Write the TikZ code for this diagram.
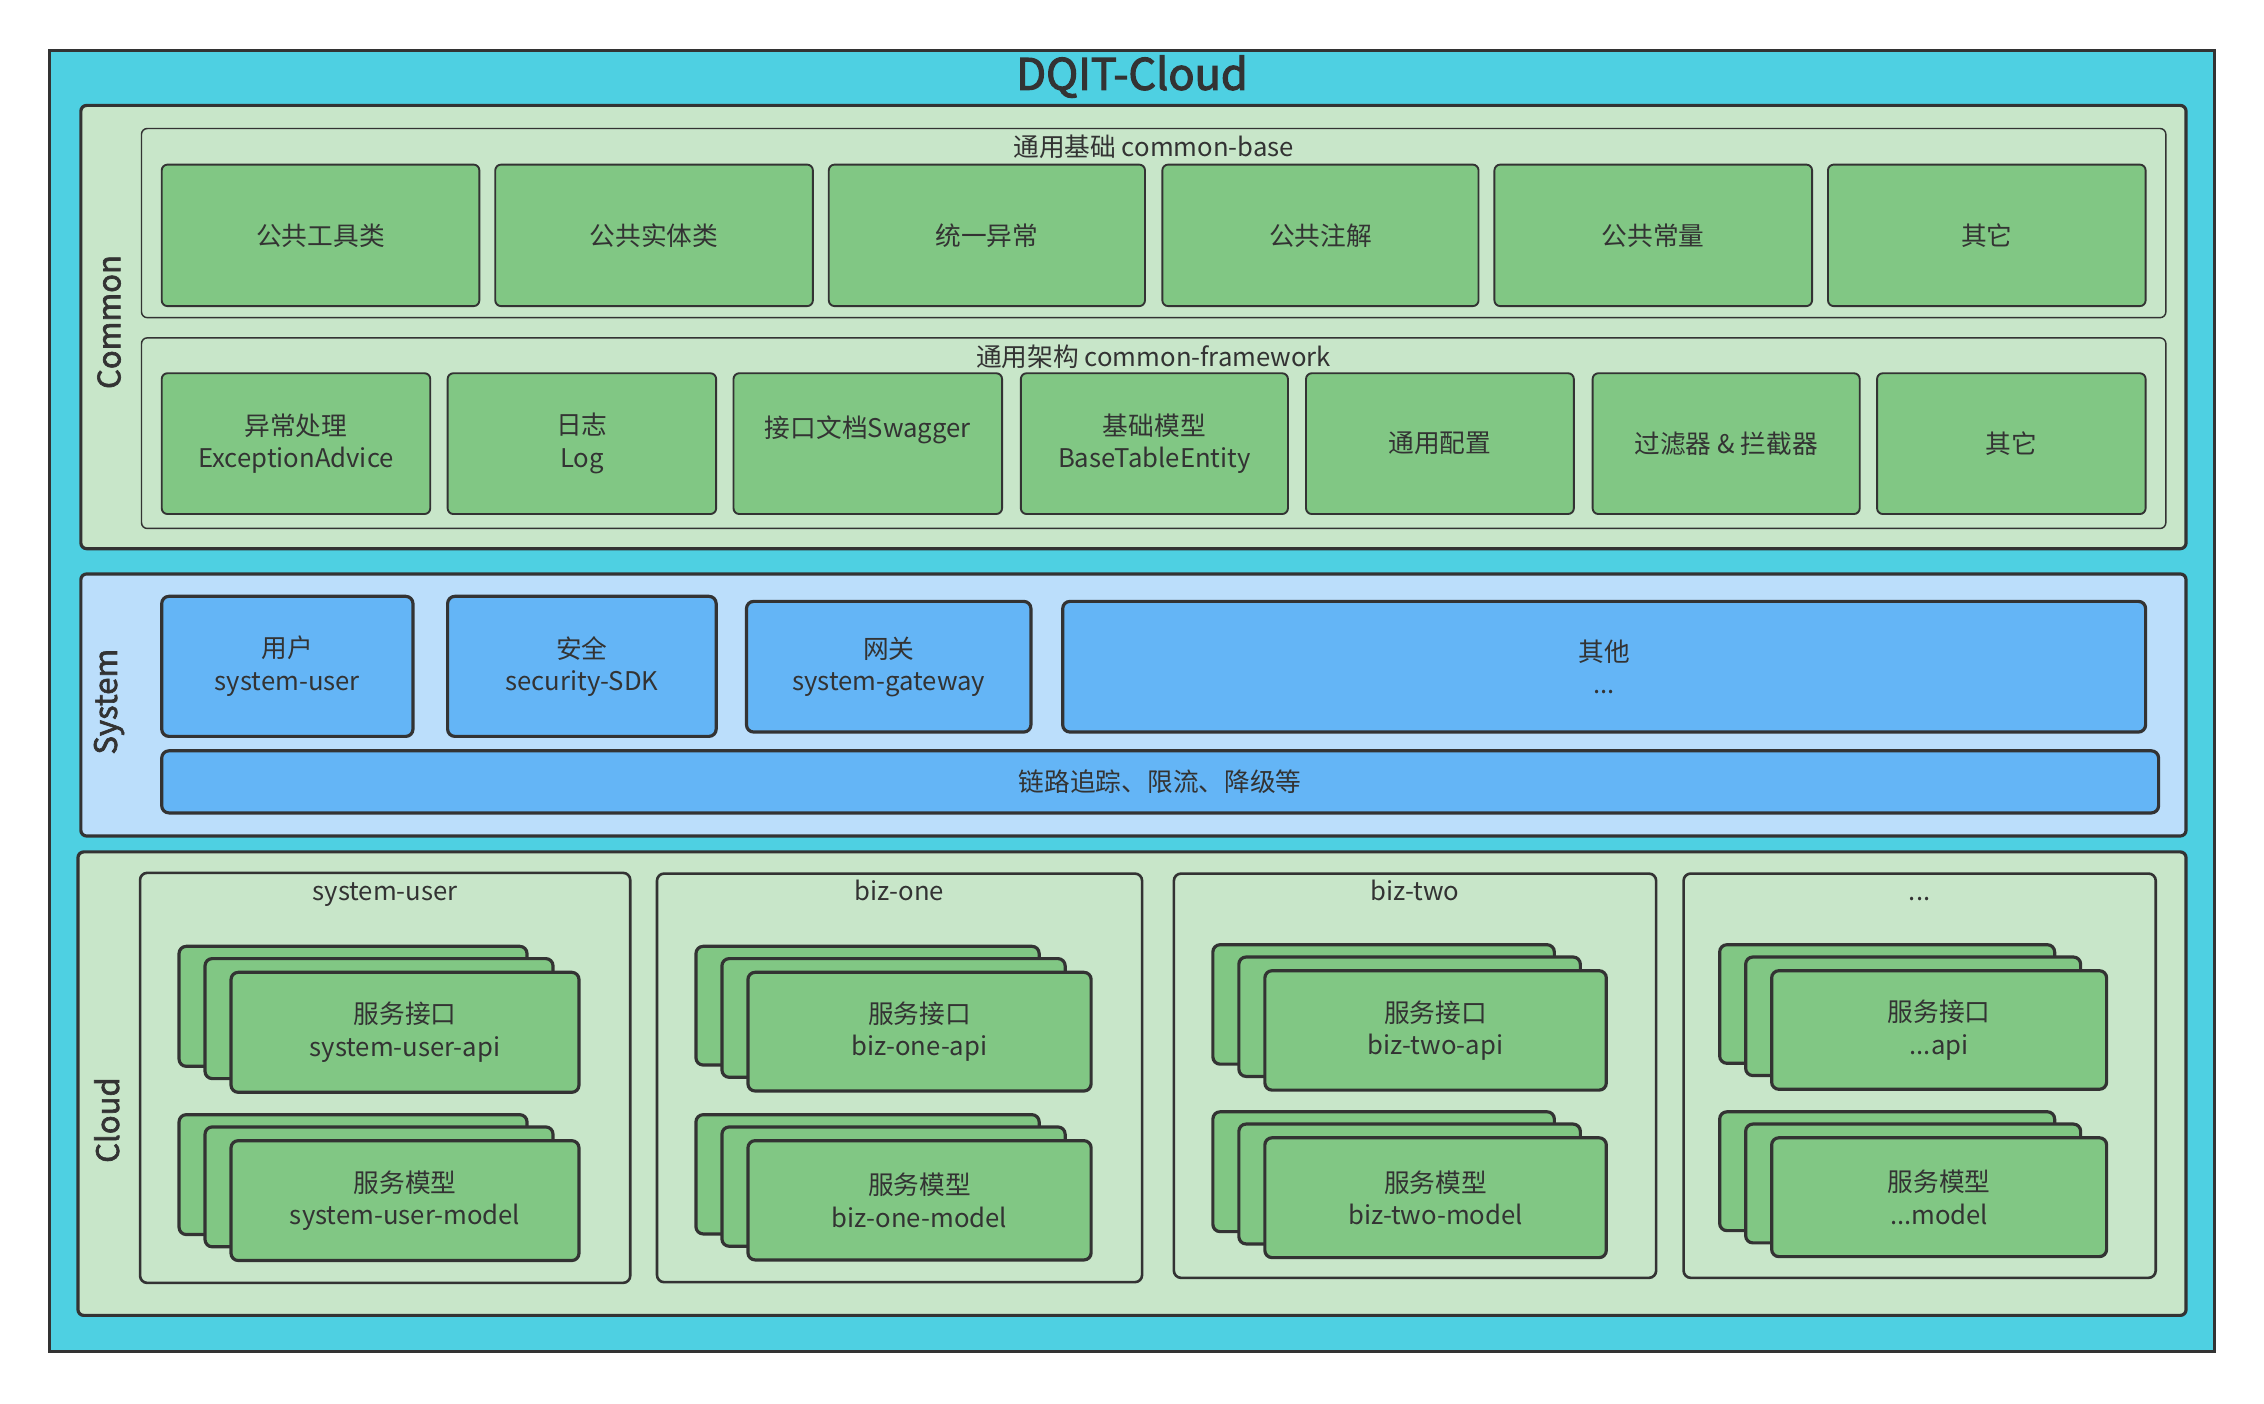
\documentclass[tikz,border=0pt]{standalone}
\usepackage{fontspec}
\setmainfont{Noto Sans CJK SC}
\newfontfamily\medfont{Noto Sans CJK SC}[FakeBold=2]
\newfontfamily\titfont{Noto Sans CJK SC}[FakeBold=2.5]
\definecolor{cyanbg}{HTML}{4ED0E2}
\definecolor{lgreen}{HTML}{C8E6C9}
\definecolor{gcol}{HTML}{81C784}
\definecolor{lblue}{HTML}{BBDEFB}
\definecolor{bcol}{HTML}{64B5F6}
\definecolor{linec}{HTML}{333333}
\definecolor{textc}{HTML}{333333}
\tikzset{
  basebox/.style={draw=linec, inner sep=0pt, outer sep=0pt, text=textc,
    font=\fontsize{17.8}{22.5}\selectfont, align=center},
  outerbox/.style={basebox, fill=cyanbg, line width=2pt},
  layerbox/.style={basebox, rounded corners=4pt, line width=2.2pt},
  grpbox/.style={basebox, fill=lgreen, rounded corners=4pt, line width=1pt},
  gcell/.style={basebox, fill=gcol, rounded corners=4pt, line width=1.3pt},
  bcell/.style={basebox, fill=bcol, rounded corners=5pt, line width=2.2pt},
  subbox/.style={basebox, fill=lgreen, rounded corners=5pt, line width=1.8pt},
  cardbox/.style={basebox, fill=gcol, rounded corners=5pt, line width=2.2pt},
  txt/.style={text=textc, inner sep=0pt, align=center, font=\fontsize{17.8}{22.5}\selectfont},
  sidelabel/.style={text=textc, inner sep=0pt, rotate=90, font=\medfont\fontsize{21.5}{24}\selectfont},
}
\newcommand{\bx}[7]{\node[#1, anchor=north west, minimum width={((#4)-(#2))*1pt}, minimum height={((#5)-(#3))*1pt}] (#6) at ({#2},{#3}) {#7};}
\newcommand{\stackcards}[6]{%
  \bx{cardbox}{#1-36}{#2-18}{#3-36}{#4-18}{#5b}{}
  \bx{cardbox}{#1-18}{#2-9.5}{#3-18}{#4-9.5}{#5m}{}
  \bx{cardbox}{#1}{#2}{#3}{#4}{#5}{#6}}
\begin{document}
\begin{tikzpicture}[x=1pt,y=-1pt]
\useasboundingbox (0,0) rectangle (1568,972);
% outer
\bx{outerbox}{34}{35}{1534}{936}{outer}{}
\node[txt, font=\titfont\fontsize{30}{34}\selectfont] (title) at (784,53) {DQIT-Cloud};
% Common
\bx{layerbox, fill=lgreen}{56}{73}{1514}{380}{common}{}
\node[sidelabel] (commonlbl) at (75.5,223) {Common};
\bx{grpbox}{98}{89}{1500}{220}{cbase}{}
\node[txt] (cbaselbl) at (799,102) {通用基础 common-base};
\bx{gcell}{112}{114}{332}{212}{b1}{公共工具类}
\bx{gcell}{343}{114}{563}{212}{b2}{公共实体类}
\bx{gcell}{574}{114}{793}{212}{b3}{统一异常}
\bx{gcell}{805}{114}{1024}{212}{b4}{公共注解}
\bx{gcell}{1035}{114}{1255}{212}{b5}{公共常量}
\bx{gcell}{1266}{114}{1486}{212}{b6}{其它}
\bx{grpbox}{98}{234}{1500}{366}{cfw}{}
\node[txt] (cfwlbl) at (799,247) {通用架构 common-framework};
\bx{gcell}{112}{258.5}{298}{356}{f1}{异常处理\\ExceptionAdvice}
\bx{gcell}{310}{258.5}{496}{356}{f2}{日志\\Log}
\bx{gcell}{508}{258.5}{694}{356}{f3}{}
\node[txt] (f3t) at (601,297.5) {接口文档Swagger};
\bx{gcell}{707}{258.5}{892}{356}{f4}{基础模型\\BaseTableEntity}
\bx{gcell}{904.5}{258.5}{1090}{356}{f5}{通用配置}
\bx{gcell}{1103}{258.5}{1288}{356}{f6}{过滤器 \& 拦截器}
\bx{gcell}{1300}{258.5}{1486}{356}{f7}{其它}
% System
\bx{layerbox, fill=lblue}{56}{397.5}{1514}{579}{system}{}
\node[sidelabel] (systemlbl) at (75.5,486) {System};
\bx{bcell}{112}{413}{286}{510}{s1}{用户\\system-user}
\bx{bcell}{310}{413}{496}{510}{s2}{安全\\security-SDK}
\bx{bcell}{517}{416.5}{714}{507}{s3}{网关\\system-gateway}
\bx{bcell}{736}{416.5}{1486}{507}{s4}{其他\\...}
\bx{bcell}{112}{520}{1495}{563}{sbar}{链路追踪、限流、降级等}
% Cloud
\bx{layerbox, fill=lgreen}{54}{590}{1514}{911}{cloud}{}
\node[sidelabel] (cloudlbl) at (74,775.7) {Cloud};
\bx{subbox}{97}{604.5}{436.5}{888.5}{c1}{}
\bx{subbox}{455}{605}{791}{888}{c2}{}
\bx{subbox}{813}{605}{1147}{885}{c3}{}
\bx{subbox}{1166}{605}{1493}{885}{c4}{}
\node[txt, anchor=base] (c1lbl) at (266.7,624) {system-user};
\node[txt, anchor=base] (c2lbl) at (623,624) {biz-one};
\node[txt, anchor=base] (c3lbl) at (980,624) {biz-two};
\node[txt, anchor=base] (c4lbl) at (1329.5,624) {...};
\stackcards{160}{673.4}{401}{756.5}{c1a}{服务接口\\system-user-api}
\stackcards{160}{790}{401}{873}{c1m}{服务模型\\system-user-model}
\stackcards{518}{673.4}{755.7}{755.6}{c2a}{服务接口\\biz-one-api}
\stackcards{518}{790}{755.7}{872.6}{c2m}{服务模型\\biz-one-model}
\stackcards{876}{672.3}{1112.5}{755}{c3a}{服务接口\\biz-two-api}
\stackcards{876}{788}{1112.5}{871}{c3m}{服务模型\\biz-two-model}
\stackcards{1227}{672.3}{1459}{754.4}{c4a}{服务接口\\...api}
\stackcards{1227}{788}{1459}{870.3}{c4m}{服务模型\\...model}
\end{tikzpicture}
\end{document}
